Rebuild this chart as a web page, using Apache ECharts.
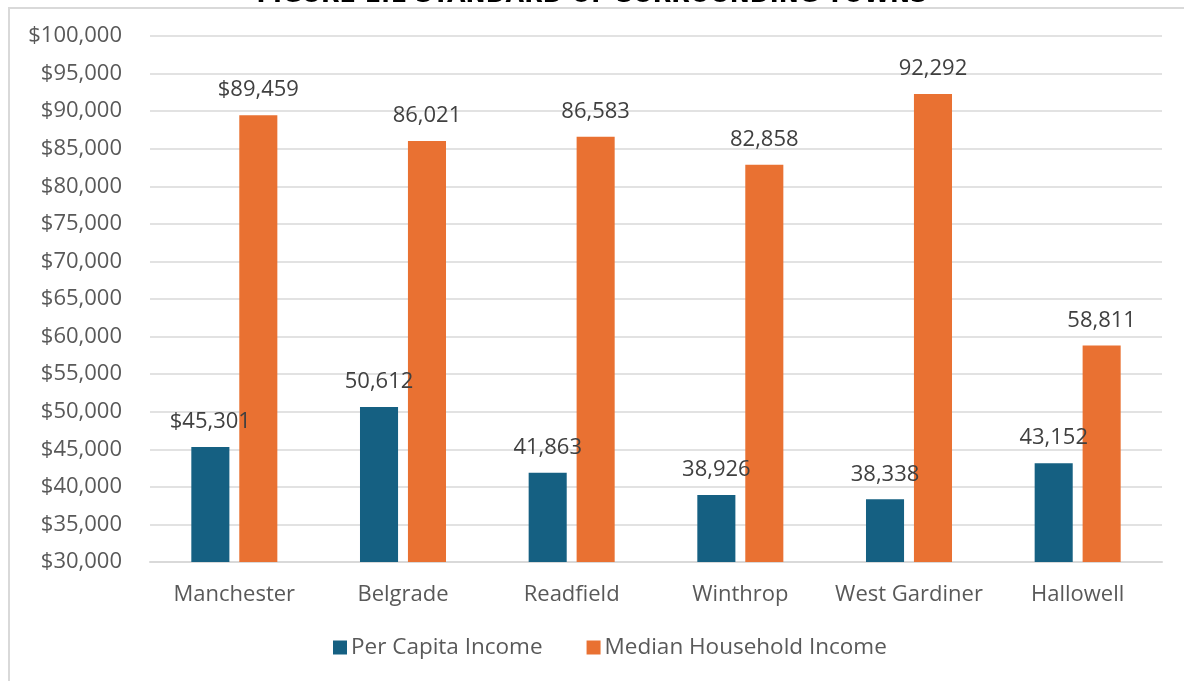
<!DOCTYPE html>
<html>
<head>
<meta charset="utf-8">
<script src="https://cdn.jsdelivr.net/npm/echarts@6/dist/echarts.min.js"></script>
<style>
html,body{margin:0;padding:0;background:#fff;overflow:hidden;}
#chart{position:absolute;left:0;top:0;width:1184px;height:681px;}
#frame{position:absolute;left:8px;top:7px;width:1300px;height:800px;border:2px solid #d9d9d9;box-sizing:border-box;pointer-events:none;}
</style>
</head>
<body>
<div id="chart"></div>
<div id="frame"></div>
<script>
const titleText = "FIGURE 1.1 STANDARD OF SURROUNDING TOWNS";
const categories = ["Manchester", "Belgrade", "Readfield", "Winthrop", "West Gardiner", "Hallowell"];
const perCapitaIncome = [45301, 50612, 41863, 38926, 38338, 43152];
const medianHouseholdIncome = [89459, 86021, 86583, 82858, 92292, 58811];
const perCapitaLabels = ["$45,301", "50,612", "41,863", "38,926", "38,338", "43,152"];
const medianLabels = ["$89,459", "86,021", "86,583", "82,858", "92,292", "58,811"];
const yMin = 30000, yMax = 100000, yStep = 5000;

const FONT = "'Open Sans', 'Liberation Sans', sans-serif";
const chart = echarts.init(document.getElementById('chart'), null, {renderer: 'canvas'});
chart.setOption({
  animation: false,
  backgroundColor: '#ffffff',
  title: {
    text: titleText,
    left: 'center',
    top: -21,
    textStyle: {fontFamily: "'DejaVu Sans', sans-serif", fontSize: 24, fontWeight: 'bold', color: '#000000'}
  },
  legend: {
    bottom: 17,
    left: 328,
    itemWidth: 14,
    itemHeight: 14,
    itemGap: 44,
    icon: 'rect',
    textStyle: {fontFamily: FONT, fontSize: 22.5, color: '#595959', padding: [0, 0, 0, -1]},
    data: ['Per Capita Income', 'Median Household Income']
  },
  grid: {left: 150, right: 22, top: 36, bottom: 119, containLabel: false},
  xAxis: {
    type: 'category',
    data: categories,
    axisLine: {show: true, lineStyle: {color: '#d9d9d9', width: 2}},
    axisTick: {show: false},
    axisLabel: {fontFamily: FONT, fontSize: 22, color: '#595959', margin: 22, interval: 0}
  },
  yAxis: {
    type: 'value',
    min: yMin,
    max: yMax,
    interval: yStep,
    axisLine: {show: false},
    axisTick: {show: false},
    splitLine: {lineStyle: {color: '#d9d9d9', width: 1.5}},
    axisLabel: {
      fontFamily: FONT, fontSize: 22, color: '#595959', margin: 28,
      formatter: v => '$' + v.toLocaleString('en-US')
    }
  },
  series: [
    {
      name: 'Per Capita Income',
      type: 'bar',
      data: perCapitaIncome,
      barGap: '26%',
      barCategoryGap: '49%',
      itemStyle: {color: '#156082'},
      label: {
        show: true, position: 'top', distance: 14,
        fontFamily: FONT, fontSize: 22, color: '#404040',
        formatter: p => perCapitaLabels[p.dataIndex]
      }
    },
    {
      name: 'Median Household Income',
      type: 'bar',
      data: medianHouseholdIncome,
      itemStyle: {color: '#E97132'},
      label: {
        show: true, position: 'top', distance: 14,
        fontFamily: FONT, fontSize: 22, color: '#404040',
        formatter: p => medianLabels[p.dataIndex]
      }
    }
  ]
});
</script>
</body>
</html>
